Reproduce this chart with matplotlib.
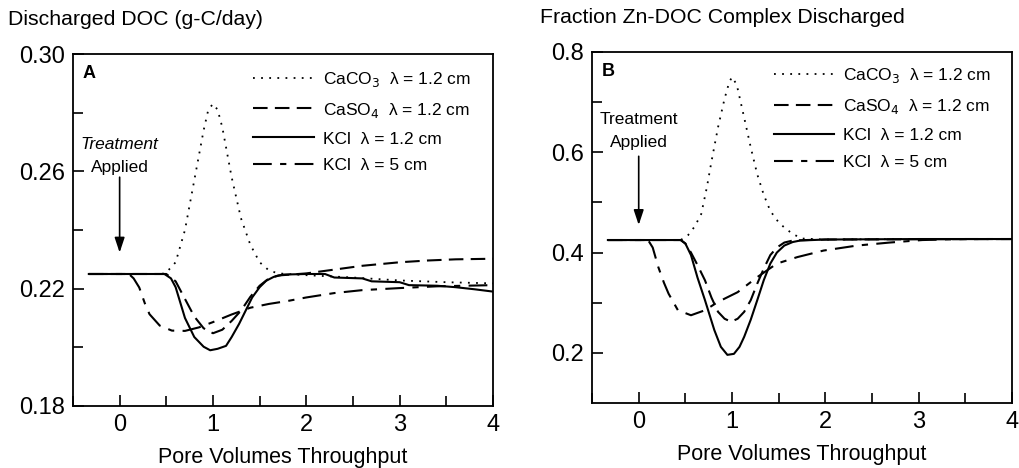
"""
Discharged DOC and fraction Zn-DOC complex vs pore volumes throughput.
Panel A: DOC discharge, panel B: Zn-DOC complex fraction.
"""
import matplotlib.pyplot as plt
from matplotlib.ticker import FixedLocator, MultipleLocator

plt.rcParams["font.family"] = ["Liberation Sans", "DejaVu Sans"]

# =============================================================================
# Data
# =============================================================================

LABELS = [r"CaCO$_3$  λ = 1.2 cm", r"CaSO$_4$  λ = 1.2 cm",
          "KCl  λ = 1.2 cm", "KCl  λ = 5 cm"]

# Panel A -- Discharged DOC (g-C/day)
a_yticks = [0.18, 0.22, 0.26, 0.30]
a_yminor = [0.20, 0.24, 0.28]

a_caco3_x = [-0.33, 0.45, 0.5, 0.6, 0.7, 0.8, 0.9, 0.95, 1.0, 1.05, 1.1, 1.2, 1.3,
             1.4, 1.5, 1.6, 1.7, 2.0, 2.5, 3.0, 3.5, 4.0]
a_caco3_y = [0.225, 0.225, 0.2255, 0.229, 0.240, 0.257, 0.274, 0.281, 0.283, 0.281,
             0.275, 0.258, 0.244, 0.235, 0.229, 0.2262, 0.2252, 0.2246, 0.2238,
             0.2228, 0.2222, 0.2218]

a_caso4_x = [-0.33, 0.5, 0.6, 0.7, 0.8, 0.9, 1.0, 1.1, 1.2, 1.3, 1.4, 1.5, 1.6,
             1.7, 2.0, 2.3, 2.6, 3.0, 3.3, 3.6, 4.0]
a_caso4_y = [0.225, 0.225, 0.2225, 0.2165, 0.2105, 0.2065, 0.2048, 0.2060, 0.2090,
             0.2125, 0.2172, 0.2210, 0.2235, 0.2245, 0.2252, 0.2265, 0.2278, 0.2290,
             0.2296, 0.2300, 0.2302]

a_kcl12_x = [-0.33, 0.48, 0.55, 0.6, 0.7, 0.8, 0.9, 0.97, 1.05, 1.14, 1.2, 1.28,
             1.35, 1.42, 1.5, 1.57, 1.65, 1.75, 2.0, 2.2, 2.3, 2.6, 2.7, 3.0, 3.1,
             3.4, 3.6, 3.8, 4.0]
a_kcl12_y = [0.225, 0.225, 0.2235, 0.2205, 0.210, 0.2035, 0.2002, 0.1990, 0.1995,
             0.2005, 0.2035, 0.208, 0.2125, 0.217, 0.2205, 0.2227, 0.2240, 0.2248,
             0.2250, 0.2250, 0.2238, 0.2235, 0.2225, 0.2222, 0.2212, 0.2210, 0.2205,
             0.2198, 0.2190]

a_kcl5_x = [-0.33, 0.1, 0.15, 0.21, 0.27, 0.32, 0.43, 0.56, 0.7, 0.85, 1.0, 1.2,
            1.4, 1.6, 1.8, 2.0, 2.3, 2.6, 3.0, 3.4, 4.0]
a_kcl5_y = [0.225, 0.225, 0.2235, 0.2204, 0.2150, 0.2113, 0.2074, 0.2057, 0.2056,
            0.2068, 0.2086, 0.2112, 0.2135, 0.2148, 0.2158, 0.2170, 0.2185, 0.2195,
            0.2202, 0.2208, 0.2212]

# Panel B -- Fraction Zn-DOC complex discharged
b_yticks = [0.2, 0.4, 0.6, 0.8]
b_yminor = [0.3, 0.5, 0.7]

b_caco3_x = [-0.33, 0.45, 0.53, 0.6, 0.67, 0.73, 0.78, 0.85, 0.92, 0.97, 1.0, 1.05,
             1.13, 1.2, 1.27, 1.34, 1.41, 1.5, 1.56, 1.65, 1.75, 2.0, 3.0, 4.0]
b_caco3_y = [0.425, 0.425, 0.435, 0.452, 0.477, 0.53, 0.582, 0.65, 0.707, 0.74, 0.75,
             0.735, 0.669, 0.61, 0.556, 0.515, 0.483, 0.46, 0.450, 0.437, 0.428,
             0.426, 0.427, 0.427]

b_caso4_x = [-0.33, 0.45, 0.5, 0.56, 0.63, 0.71, 0.78, 0.85, 0.92, 0.99, 1.06, 1.13,
             1.2, 1.27, 1.34, 1.41, 1.48, 1.56, 1.65, 1.8, 2.0, 4.0]
b_caso4_y = [0.425, 0.425, 0.418, 0.40, 0.375, 0.3446, 0.31, 0.2818, 0.268, 0.262,
             0.268, 0.2818, 0.305, 0.338, 0.368, 0.395, 0.41, 0.42, 0.424, 0.425,
             0.426, 0.427]

b_kcl12_x = [-0.33, 0.45, 0.5, 0.56, 0.63, 0.71, 0.81, 0.88, 0.95, 1.02, 1.08, 1.13,
             1.2, 1.27, 1.34, 1.41, 1.48, 1.56, 1.65, 1.73, 2.0, 3.0, 4.0]
b_kcl12_y = [0.425, 0.425, 0.418, 0.395, 0.35, 0.305, 0.2455, 0.212, 0.196, 0.198,
             0.212, 0.232, 0.266, 0.305, 0.345, 0.378, 0.40, 0.414, 0.421, 0.424,
             0.426, 0.427, 0.427]

b_kcl5_x = [-0.33, 0.1, 0.15, 0.21, 0.27, 0.32, 0.42, 0.56, 0.71, 0.85, 1.06, 1.27,
            1.48, 1.70, 1.98, 2.34, 2.69, 3.04, 3.5, 4.0]
b_kcl5_y = [0.425, 0.425, 0.41, 0.371, 0.34, 0.318, 0.285, 0.275, 0.285, 0.3016,
            0.321, 0.351, 0.378, 0.391, 0.404, 0.414, 0.42, 0.425, 0.427, 0.427]

STYLES = [
    {"linestyle": (0, (1, 3.5)), "linewidth": 1.3},
    {"linestyle": (0, (7, 3.5)), "linewidth": 1.5},
    {"linestyle": "-", "linewidth": 1.5},
    {"linestyle": (0, (9, 4, 3, 4)), "linewidth": 1.5},
]


def draw_panel(ax, series, ylim, yticks, yminor, yfmt, letter, ylabel, ylabel_x,
               arrow_y, text_y, italic_label, leg_anchor):
    for (xs, ys), style, label in zip(series, STYLES, LABELS):
        ax.plot(xs, ys, color="black", label=label, **style)

    ax.set_xlim(-0.5, 4.0)
    ax.set_ylim(*ylim)
    ax.xaxis.set_major_locator(MultipleLocator(1))
    ax.xaxis.set_minor_locator(MultipleLocator(0.5))
    ax.yaxis.set_major_locator(FixedLocator(yticks))
    ax.yaxis.set_minor_locator(FixedLocator(yminor))
    ax.yaxis.set_major_formatter(plt.FormatStrFormatter(yfmt))
    ax.tick_params(which="both", direction="in", top=False, right=False,
                   labelsize=17, width=1.2)
    ax.tick_params(which="major", length=8, pad=6)
    ax.tick_params(which="minor", length=7)
    for sp in ax.spines.values():
        sp.set_linewidth(1.3)

    ax.set_xlabel("Pore Volumes Throughput", fontsize=15.5, labelpad=8)
    ax.text(ylabel_x, 1.097, ylabel, transform=ax.transAxes, fontsize=15.3,
            ha="left", va="center")
    ax.text(0.022, 0.945, letter, transform=ax.transAxes, fontsize=13,
            fontweight="bold", ha="left", va="center")

    ax.text(0, text_y[0], "Treatment", fontsize=12.5, ha="center", va="center",
            style="italic" if italic_label else "normal")
    ax.text(0, text_y[1], "Applied", fontsize=12.5, ha="center", va="center")
    ax.annotate("", xy=(0, arrow_y[1]), xytext=(0, arrow_y[0]),
                arrowprops=dict(arrowstyle="-|>,head_length=0.9,head_width=0.3",
                                color="black", lw=1.2, shrinkA=0, shrinkB=0))

    ax.legend(loc="upper left", bbox_to_anchor=leg_anchor, borderaxespad=0,
              frameon=False, fontsize=12.5, handlelength=3.5, handletextpad=0.5,
              labelspacing=0.68)


if __name__ == "__main__":
    fig = plt.figure(figsize=(10.19, 4.68), dpi=100)
    ax_a = fig.add_axes([0.0716, 0.1325, 0.4122, 0.7521])
    ax_b = fig.add_axes([0.5810, 0.1389, 0.4122, 0.7500])

    draw_panel(ax_a,
               [(a_caco3_x, a_caco3_y), (a_caso4_x, a_caso4_y),
                (a_kcl12_x, a_kcl12_y), (a_kcl5_x, a_kcl5_y)],
               (0.18, 0.30), a_yticks, a_yminor, "%.2f", "A",
               "Discharged DOC (g-C/day)", -0.155,
               arrow_y=(0.258, 0.2323), text_y=(0.2693, 0.2612),
               italic_label=True, leg_anchor=(0.413, 0.975))
    draw_panel(ax_b,
               [(b_caco3_x, b_caco3_y), (b_caso4_x, b_caso4_y),
                (b_kcl12_x, b_kcl12_y), (b_kcl5_x, b_kcl5_y)],
               (0.1, 0.8), b_yticks, b_yminor, "%.1f", "B",
               "Fraction Zn-DOC Complex Discharged", -0.124,
               arrow_y=(0.592, 0.455), text_y=(0.665, 0.62),
               italic_label=False, leg_anchor=(0.416, 0.98))

    fig.savefig("out.png", dpi=100)
    plt.close(fig)
